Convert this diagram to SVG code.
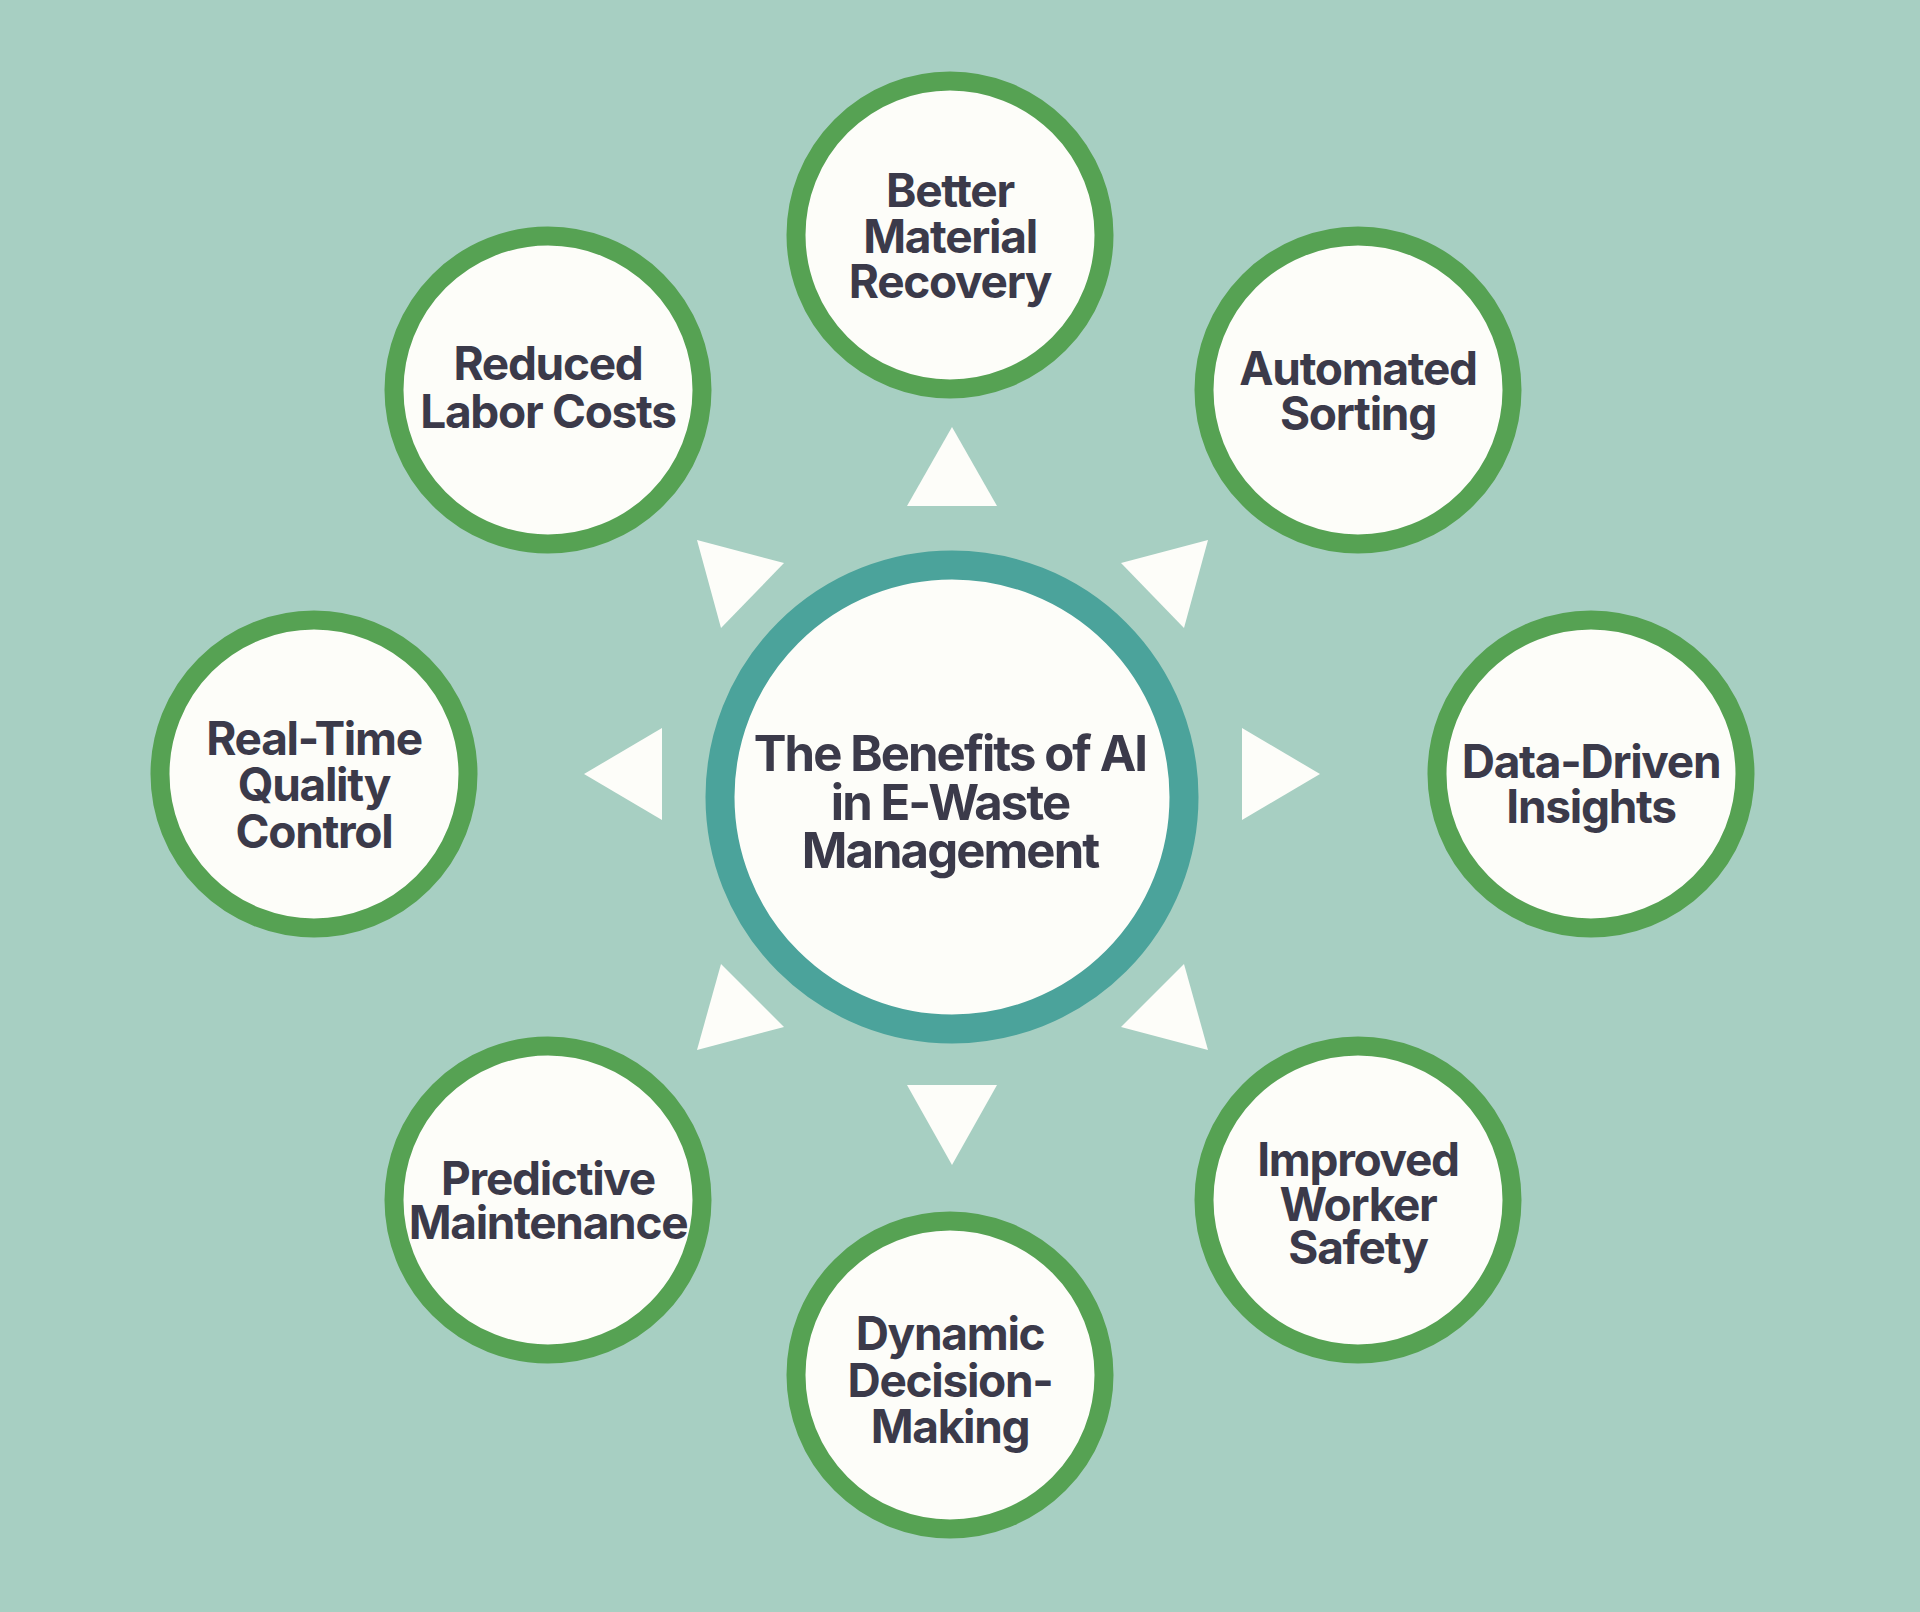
<svg xmlns="http://www.w3.org/2000/svg" width="1920" height="1612" viewBox="0 0 1920 1612">
  <style>
    .bg { fill: #a7cfc2; }
    .node { fill: #fdfdf9; stroke: #56a253; stroke-width: 19; }
    .hub { fill: #fdfdf9; stroke: #4ba39b; stroke-width: 29; }
    .lbl { font-family: Inter, "Liberation Sans", sans-serif; font-weight: 700; font-size: 46px; letter-spacing: -1.3px; fill: #3b3a4a; text-anchor: middle; }
    .hubl { font-size: 49px; letter-spacing: -1.9px; }
    .tri { fill: #fdfdf9; }
  </style>
  <rect class="bg" x="0" y="0" width="1920" height="1612"/>

  <g id="connectors">
    <polygon class="tri" points="952,427 907,506 997,506"/>
    <polygon class="tri" points="1208,540 1121,563 1184,628"/>
    <polygon class="tri" points="1320,774 1242,728 1242,820"/>
    <polygon class="tri" points="1208,1050 1121,1027 1184,964"/>
    <polygon class="tri" points="952,1165 907,1085 997,1085"/>
    <polygon class="tri" points="697,1050 784,1027 721,964"/>
    <polygon class="tri" points="584,774 662,728 662,820"/>
    <polygon class="tri" points="697,540 784,563 721,628"/>
  </g>

  <g id="hub">
    <circle class="hub" cx="952" cy="797" r="232"/>
    <text class="lbl hubl" x="950" y="771">The Benefits of AI</text>
    <text class="lbl hubl" x="950" y="820">in E-Waste</text>
    <text class="lbl hubl" x="950" y="868">Management</text>
  </g>

  <g id="node-material-recovery">
    <circle class="node" cx="950" cy="235" r="154"/>
    <text class="lbl" x="950" y="207">Better</text>
    <text class="lbl" x="950" y="253">Material</text>
    <text class="lbl" x="950" y="298">Recovery</text>
  </g>

  <g id="node-automated-sorting">
    <circle class="node" cx="1358" cy="390" r="154"/>
    <text class="lbl" x="1358" y="385">Automated</text>
    <text class="lbl" x="1358" y="430">Sorting</text>
  </g>

  <g id="node-data-driven">
    <circle class="node" cx="1591" cy="774" r="154"/>
    <text class="lbl" x="1591" y="778">Data-Driven</text>
    <text class="lbl" x="1591" y="823">Insights</text>
  </g>

  <g id="node-worker-safety">
    <circle class="node" cx="1358" cy="1200" r="154"/>
    <text class="lbl" x="1358" y="1176">Improved</text>
    <text class="lbl" x="1358" y="1221">Worker</text>
    <text class="lbl" x="1358" y="1264">Safety</text>
  </g>

  <g id="node-decision-making">
    <circle class="node" cx="950" cy="1375" r="154"/>
    <text class="lbl" x="950" y="1350">Dynamic</text>
    <text class="lbl" x="950" y="1397">Decision-</text>
    <text class="lbl" x="950" y="1443">Making</text>
  </g>

  <g id="node-predictive-maintenance">
    <circle class="node" cx="548" cy="1200" r="154"/>
    <text class="lbl" x="548" y="1195">Predictive</text>
    <text class="lbl" x="548" y="1239">Maintenance</text>
  </g>

  <g id="node-quality-control">
    <circle class="node" cx="314" cy="774" r="154"/>
    <text class="lbl" x="314" y="755">Real-Time</text>
    <text class="lbl" x="314" y="801">Quality</text>
    <text class="lbl" x="314" y="848">Control</text>
  </g>

  <g id="node-labor-costs">
    <circle class="node" cx="548" cy="390" r="154"/>
    <text class="lbl" x="548" y="380">Reduced</text>
    <text class="lbl" x="548" y="428">Labor Costs</text>
  </g>
</svg>
